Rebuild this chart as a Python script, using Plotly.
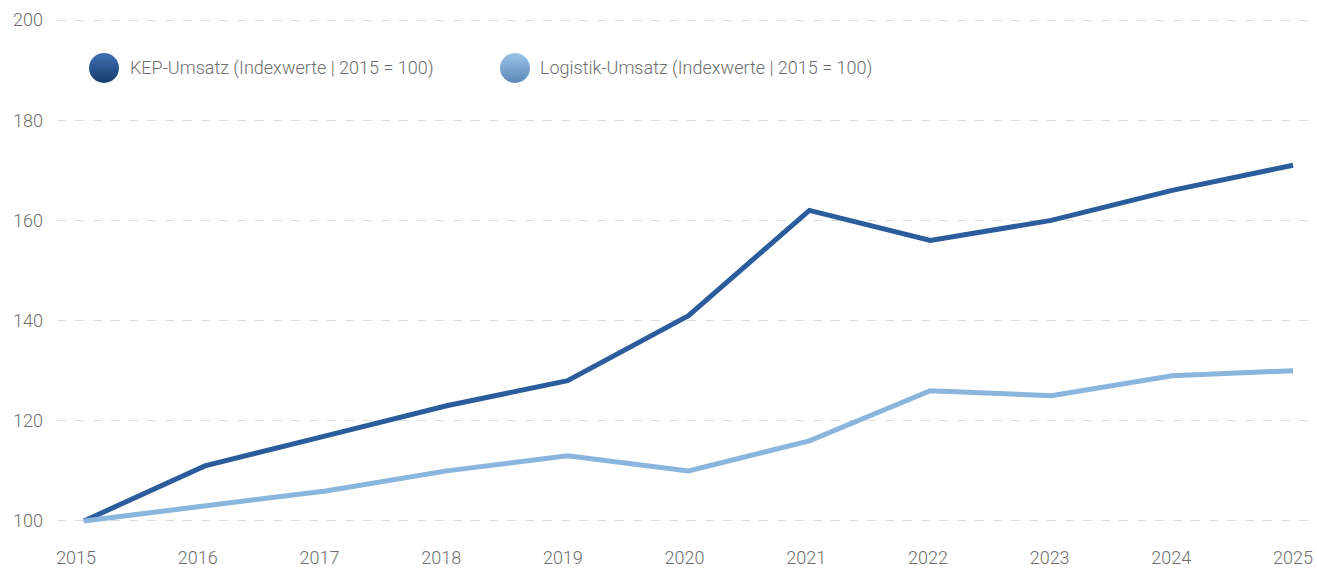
import numpy as np
import plotly.graph_objects as go

# Index values (2015 = 100)
years = [2015, 2016, 2017, 2018, 2019, 2020, 2021, 2022, 2023, 2024, 2025]
kep_umsatz = [100, 111, 117, 123, 128, 141, 162, 156, 160, 166, 171]
logistik_umsatz = [100, 103, 106, 110, 113, 110, 116, 126, 125, 129, 130]

series_names = [
    "KEP-Umsatz (Indexwerte | 2015 = 100)",
    "Logistik-Umsatz (Indexwerte | 2015 = 100)",
]
y_ticks = [100, 120, 140, 160, 180, 200]

DARK_BLUE = "#2b5c9c"
LIGHT_BLUE = "#8ab5dd"
TEXT_GREY = "#6e6e6e"
FONT = "Roboto"

W, H = 1317, 569
M_L, M_R, M_T, M_B = 57, 5, 15, 33

# Year labels are spread evenly on their own band, starting a touch left of
# the first data point and ending under the last one.
label_positions = np.linspace(years[0] - 0.065, years[-1], len(years))

fig = go.Figure()

fig.add_trace(go.Scatter(
    x=years, y=kep_umsatz, mode="lines", name=series_names[0],
    line=dict(color=DARK_BLUE, width=5), showlegend=False,
))
fig.add_trace(go.Scatter(
    x=years, y=logistik_umsatz, mode="lines", name=series_names[1],
    line=dict(color=LIGHT_BLUE, width=5), showlegend=False,
))

# Custom legend: shaded round swatches on a pixel-scaled overlay axis
legend_items = [
    dict(cx=104, cy=68, tx=128, top="#3f72b4", bottom="#173a6b"),
    dict(cx=515, cy=68, tx=538, top="#9dc4e8", bottom="#5a88b8"),
]
for item, name in zip(legend_items, series_names):
    fig.add_trace(go.Scatter(
        x=[item["cx"]], y=[item["cy"]], xaxis="x2", yaxis="y2",
        mode="markers", showlegend=False, hoverinfo="skip",
        marker=dict(size=30, color=item["top"],
                    gradient=dict(type="vertical", color=item["bottom"]),
                    line=dict(width=0)),
    ))
    fig.add_annotation(
        x=item["tx"], y=item["cy"], xref="x2", yref="y2",
        text=name, showarrow=False, xanchor="left", yanchor="middle",
        font=dict(family=FONT, size=18, color=TEXT_GREY, weight=300),
    )

tick_font = dict(family=FONT, size=18, color=TEXT_GREY, weight=300)

fig.update_layout(
    template="none",
    width=W, height=H,
    margin=dict(l=M_L, r=M_R, t=M_T, b=M_B, pad=0),
    paper_bgcolor="white", plot_bgcolor="white",
    showlegend=False,
    font=dict(family=FONT, size=18, color=TEXT_GREY),
    xaxis=dict(
        range=[2014.777, 2025.157], tickmode="array",
        tickvals=list(label_positions),
        ticktext=[str(y) for y in years], showgrid=False, zeroline=False,
        showline=False, ticks="", ticklabelstandoff=9, automargin=False,
        tickfont=tick_font,
    ),
    yaxis=dict(
        range=[97, 201], tickmode="array", tickvals=y_ticks,
        showgrid=True, gridcolor="#dcdcdc", griddash="dash", gridwidth=1,
        zeroline=False, showline=False, ticks="", ticklabelstandoff=13,
        automargin=False, tickfont=tick_font,
    ),
    xaxis2=dict(overlaying="x", range=[M_L, W - M_R], visible=False,
                fixedrange=True, automargin=False),
    yaxis2=dict(overlaying="y", range=[H - M_B, M_T], visible=False,
                fixedrange=True, automargin=False),
)

fig.write_html("out.html")
